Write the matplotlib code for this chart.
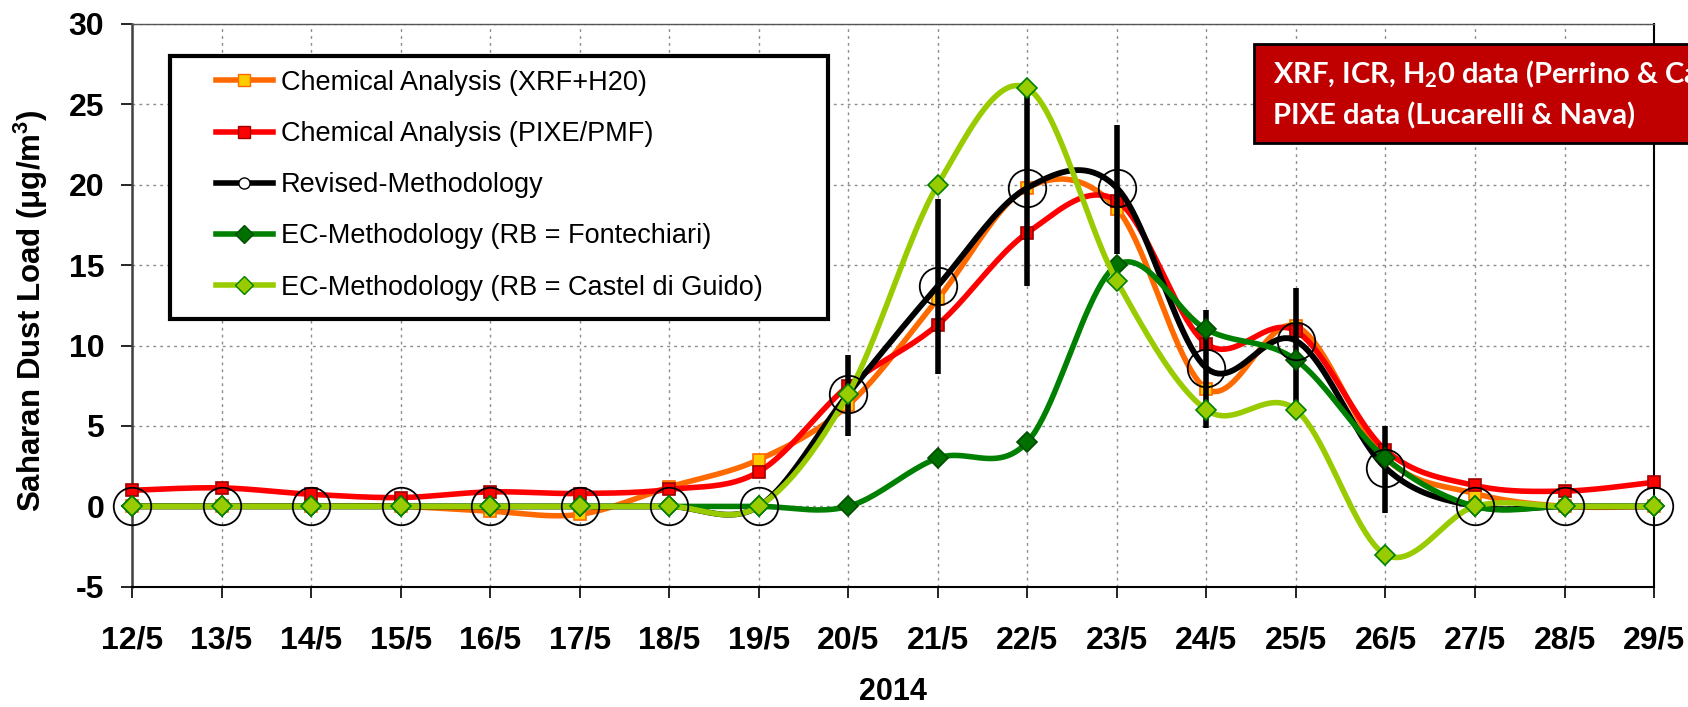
import numpy as np
import matplotlib
matplotlib.use("Agg")
import matplotlib.pyplot as plt
from matplotlib import font_manager
from matplotlib.lines import Line2D
from matplotlib.patches import Rectangle

plt.rcParams["font.family"] = ["Liberation Sans", "DejaVu Sans"]
plt.rcParams["axes.unicode_minus"] = False

installed = {f.name for f in font_manager.fontManager.ttflist}
narrow = "Liberation Sans Narrow" if "Liberation Sans Narrow" in installed else None

# data
dates = ["12/5", "13/5", "14/5", "15/5", "16/5", "17/5", "18/5", "19/5", "20/5",
         "21/5", "22/5", "23/5", "24/5", "25/5", "26/5", "27/5", "28/5", "29/5"]
xrf_h2o = [0, 0, 0, 0, -0.3, -0.5, 1.2, 2.9, 6.3, 12.9, 19.8, 18.5, 7.3, 11.2, 3.0, 0.8, 0, 0]
pixe_pmf = [1.0, 1.15, 0.75, 0.55, 0.9, 0.8, 1.05, 2.15, 7.5, 11.3, 17.0, 19.0, 10.1, 10.9, 3.5, 1.3, 0.95, 1.5]
revised = [0, 0, 0, 0, 0, 0, 0, 0, 7.0, 13.7, 19.8, 19.8, 8.6, 10.3, 2.4, 0, 0, 0]
revised_err_lo = [0, 0, 0, 0, 0, 0, 0, 0, 2.6, 5.5, 6.1, 4.1, 3.7, 4.2, 2.8, 0, 0, 0]
revised_err_hi = [0, 0, 0, 0, 0, 0, 0, 0, 2.4, 5.4, 6.0, 3.9, 3.6, 3.3, 2.6, 0, 0, 0]
ec_fontechiari = [0, 0, 0, 0, 0, 0, 0, 0, 0, 3.0, 4.0, 15.0, 11.0, 9.1, 3.0, 0, 0, 0]
ec_castel = [0, 0, 0, 0, 0, 0, 0, 0, 7.0, 20.0, 26.0, 14.0, 6.0, 6.0, -3.0, 0, 0, 0]

labels = ["Chemical Analysis (XRF+H20)", "Chemical Analysis (PIXE/PMF)",
          "Revised-Methodology", "EC-Methodology (RB = Fontechiari)",
          "EC-Methodology (RB = Castel di Guido)"]


def smooth(x, y, n=24):
    # Excel-style smoothed line (Catmull-Rom through the points)
    x = np.asarray(x, float)
    y = np.asarray(y, float)
    px = np.concatenate([[x[0]], x, [x[-1]]])
    py = np.concatenate([[y[0]], y, [y[-1]]])
    xs, ys = [], []
    t = np.linspace(0, 1, n)
    for i in range(len(x) - 1):
        p0, p1, p2, p3 = i, i + 1, i + 2, i + 3
        for arr, out in ((px, xs), (py, ys)):
            b0 = arr[p1]
            b1 = arr[p1] + (arr[p2] - arr[p0]) / 6
            b2 = arr[p2] - (arr[p3] - arr[p1]) / 6
            b3 = arr[p2]
            seg = ((1 - t) ** 3 * b0 + 3 * (1 - t) ** 2 * t * b1
                   + 3 * (1 - t) * t ** 2 * b2 + t ** 3 * b3)
            out.extend(seg if i == 0 else seg[1:])
    return np.array(xs), np.array(ys)


x = np.arange(len(dates))

fig = plt.figure(figsize=(16.88, 7.07), dpi=100)
ax = fig.add_axes([0.0782, 0.170, 0.9017, 0.7964])

styles = [
    (xrf_h2o, "#FF6A00", "s", "#FFCC00", "#FF6A00", 9, 3),
    (pixe_pmf, "#FF0000", "s", "#FF0000", "#A00000", 9, 4),
    (ec_fontechiari, "#008000", "D", "#007000", "#004D00", 10, 6),
    (ec_castel, "#99CC00", "D", "#99CC00", "#008000", 10, 7),
]

for vals, col, mk, fc, ec, ms, z in styles:
    sx, sy = smooth(x, vals)
    ax.plot(sx, sy, color=col, lw=4, zorder=z, clip_on=False, solid_capstyle="round")
    ax.plot(x, vals, ls="none", marker=mk, ms=ms, mfc=fc, mec=ec, mew=1.2,
            zorder=z + 0.5, clip_on=False)

# revised methodology: line, error bars, hollow circles
sx, sy = smooth(x, revised)
ax.plot(sx, sy, color="black", lw=4.2, zorder=5, clip_on=False)
has_err = np.array(revised_err_lo) > 0
ax.errorbar(x[has_err], np.array(revised)[has_err],
            yerr=[np.array(revised_err_lo)[has_err], np.array(revised_err_hi)[has_err]],
            fmt="none", ecolor="black", elinewidth=4, capsize=0, zorder=5.2)
ax.plot(x, revised, ls="none", marker="o", ms=27, mfc="none", mec="black",
        mew=1.3, zorder=9, clip_on=False)

ax.set_xlim(0, 17)
ax.set_ylim(-5, 30)
ax.set_xticks(x)
ax.set_xticklabels(dates)
ax.set_yticks(range(-5, 31, 5))
ax.tick_params(axis="both", labelsize=23, direction="out", length=8, width=1.2)
ax.tick_params(axis="x", pad=20)
ax.tick_params(axis="y", pad=12)
for lab in ax.get_xticklabels() + ax.get_yticklabels():
    lab.set_fontweight("bold")

ax.grid(True, color="#8C8C8C", ls=(0, (2, 3)), lw=1.0, zorder=0)
ax.set_axisbelow(True)
ax.spines["left"].set_color("#404040")
ax.spines["left"].set_linewidth(1.8)
ax.spines["bottom"].set_color("black")
ax.spines["bottom"].set_linewidth(1.5)
ax.spines["right"].set_color("black")
ax.spines["right"].set_linewidth(1.5)
ax.spines["top"].set_color("#555555")
ax.spines["top"].set_linewidth(1.0)

ax.set_xlabel("2014", fontsize=22, fontweight="bold", labelpad=15)
if narrow:
    ax.set_ylabel("Saharan Dust Load (\u03bcg/m$\\mathregular{^3}$)", fontsize=25,
                  fontweight="bold", family=[narrow, "DejaVu Sans"])
    ax.yaxis.set_label_coords(-0.054, 0.49)
else:
    ax.set_ylabel("Saharan Dust Load (\u03bcg/m$\\mathregular{^3}$)", fontsize=22.5,
                  fontweight="bold")
    ax.yaxis.set_label_coords(-0.054, 0.49)

# legend box
ax.add_patch(Rectangle((0.025, 0.476), 0.432, 0.467, transform=ax.transAxes,
                       facecolor="white", edgecolor="black", lw=3, zorder=10))
handles = [
    Line2D([], [], color="#FF6A00", lw=4, marker="s", ms=9, mfc="#FFCC00", mec="#FF6A00"),
    Line2D([], [], color="#FF0000", lw=4, marker="s", ms=9, mfc="#FF0000", mec="#A00000"),
    Line2D([], [], color="black", lw=4, marker="o", ms=8, mfc="white", mec="black"),
    Line2D([], [], color="#008000", lw=4, marker="D", ms=9, mfc="#007000", mec="#004D00"),
    Line2D([], [], color="#99CC00", lw=4, marker="D", ms=9, mfc="#99CC00", mec="#008000"),
]
leg = ax.legend(handles, labels, loc="upper left", bbox_to_anchor=(0.055, 0.918),
                frameon=False, fontsize=19.5, handlelength=2.1, handletextpad=0.3,
                labelspacing=0.93, borderpad=0, borderaxespad=0)
leg.set_zorder(11)

# red note box, running past the right edge of the figure (as in the source)
fig.add_artist(Rectangle((1254 / 1688, 1 - 143 / 707), 0.3, 99 / 707,
                         transform=fig.transFigure, facecolor="#C00000",
                         edgecolor="black", lw=2, zorder=12))
fig.text(1273 / 1688, 1 - 83 / 707, "XRF, ICR, H$\\mathregular{_2}$0 data (Perrino & Canepari)",
         color="white", fontsize=21, fontweight="bold", family="Lato",
         va="baseline", zorder=13)
fig.text(1273 / 1688, 1 - 124 / 707, "PIXE data (Lucarelli & Nava)",
         color="white", fontsize=21, fontweight="bold", family="Lato",
         va="baseline", zorder=13)

fig.savefig("out.png", dpi=100)
